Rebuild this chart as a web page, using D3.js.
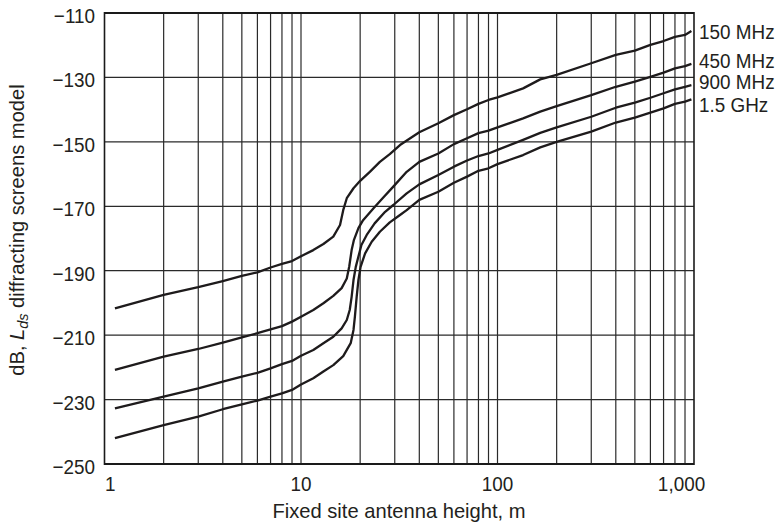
<!DOCTYPE html>
<html>
<head>
<meta charset="utf-8">
<script src="https://cdn.jsdelivr.net/npm/d3@7"></script>
<style>
  body { margin: 0; background: #fff; }
  svg { display: block; }
  text { font-family: "Liberation Sans", Arial, sans-serif; fill: #231f20; }
</style>
</head>
<body>
<div id="container"></div>
<script>
/* DATA */
// [antenna height m, loss dB]
const mhz150 = [[1.13,-201.7],[2,-197.5],[3,-195.1],[4,-193.2],[5,-191.6],[6,-190.5],[7,-189.0],[8,-187.9],[9,-187.0],[10,-185.5],[11.55,-183.6],[13,-181.7],[14.6,-179.4],[15.8,-175.8],[16.4,-171.2],[17.1,-167.5],[18.5,-164.4],[20,-162.1],[22.4,-159.3],[25.2,-156.2],[28.3,-153.8],[31.9,-151.0],[40,-147.0],[50,-144.2],[60,-141.7],[70,-139.9],[80,-138.2],[90,-137.0],[100,-136.2],[135,-133.4],[165,-130.6],[200,-129.2],[300,-125.6],[400,-123.0],[500,-121.7],[600,-119.9],[700,-118.7],[800,-117.4],[900,-116.8],[970,-115.6]]
const mhz450 = [[1.13,-220.8],[2,-216.7],[3,-214.3],[4,-212.3],[5,-210.7],[6,-209.4],[7,-208.2],[8,-207.2],[9,-205.8],[10,-204.3],[11.55,-202.2],[13,-200.1],[14.6,-197.8],[16.1,-195.4],[17.1,-192.4],[17.6,-188.7],[18.1,-183.6],[18.6,-180.4],[19.6,-176.8],[20.7,-174.3],[23.4,-170.6],[26.3,-167.2],[29.5,-163.9],[34.5,-159.3],[40,-156.2],[50,-153.6],[60,-150.7],[70,-148.9],[80,-147.3],[90,-146.5],[100,-145.5],[135,-142.7],[165,-140.6],[200,-138.9],[300,-135.5],[400,-132.9],[500,-131.3],[600,-129.8],[700,-128.5],[800,-127.2],[900,-126.5],[970,-125.8]]
const mhz900 = [[1.13,-232.7],[2,-229.1],[3,-226.5],[4,-224.4],[5,-222.9],[6,-221.7],[7,-220.3],[8,-219.0],[9,-218.0],[10,-216.4],[11.55,-214.6],[13,-212.5],[14.6,-210.5],[16.1,-207.9],[17.1,-205.3],[17.7,-202.2],[18.1,-198.1],[18.5,-192.9],[19,-188.8],[19.6,-185.6],[20.3,-182.0],[21.6,-178.9],[23.7,-175.3],[26.8,-171.7],[29.5,-169.6],[34.5,-166.0],[40,-163.2],[50,-160.3],[60,-157.7],[70,-155.8],[80,-154.4],[90,-153.6],[100,-152.5],[135,-149.4],[165,-147.2],[200,-145.5],[300,-142.2],[400,-139.4],[500,-137.8],[600,-136.3],[700,-134.9],[800,-133.7],[900,-132.9],[970,-132.4]]
const ghz15 = [[1.13,-242.0],[2,-237.9],[3,-235.3],[4,-233.0],[5,-231.5],[6,-230.3],[7,-229.1],[8,-228.1],[9,-227.0],[10,-225.3],[11.55,-223.4],[13,-221.3],[14.6,-219.3],[16.4,-216.5],[17.9,-212.5],[18.5,-208.4],[18.8,-204.3],[19.2,-198.1],[19.6,-192.9],[20.1,-188.8],[21.2,-184.6],[22.9,-181.0],[25.2,-177.9],[28.3,-175.0],[31.9,-172.7],[34.5,-171.2],[40,-168.0],[50,-165.5],[60,-162.7],[70,-160.8],[80,-159.0],[90,-158.2],[100,-156.9],[135,-154.1],[165,-151.7],[200,-150.0],[300,-146.8],[400,-144.0],[500,-142.5],[600,-140.9],[700,-139.6],[800,-138.2],[900,-137.5],[970,-136.8]]

const seriesNames = ["150 MHz", "450 MHz", "900 MHz", "1.5 GHz"]
const seriesData = [mhz150, mhz450, mhz900, ghz15]
const labelY = [38.5, 68, 89, 111.5]   // baselines of the right-hand labels

const yTicks = [-110, -130, -150, -170, -190, -210, -230, -250]
const xTicks = [1, 10, 100, 1000]
const xTickLabels = ["1", "10", "100", "1,000"]

/* LAYOUT */
const W = 781, H = 528
const margin = {top: 13, right: 87, bottom: 64, left: 104.5}
const width = W - margin.left - margin.right
const height = H - margin.top - margin.bottom
const NARROW = 0.9    // squeeze Liberation Sans toward the condensed face
const TITLE_NARROW = 0.96

const svg = d3.select("#container")
  .append("svg")
    .attr("width", W)
    .attr("height", H)

const g = svg.append("g")
  .attr("transform", "translate(" + margin.left + "," + margin.top + ")")

// SCALES
const xScale = d3.scaleLog().domain([1, 1000]).range([0, width])
const yScale = d3.scaleLinear().domain([-250, -110]).range([height, 0])

// GRID
const minorX = []
for (let dec = 1; dec < 1000; dec *= 10) {
  for (let k = 2; k <= 9; k++) minorX.push(k * dec)
}
minorX.push(10, 100)

g.selectAll(".vgrid")
  .data(minorX)
  .join("line")
    .attr("x1", d => xScale(d)).attr("x2", d => xScale(d))
    .attr("y1", 0).attr("y2", height)
    .attr("stroke", "#2a2a2a")
    .attr("stroke-width", 1.2)

g.selectAll(".hgrid")
  .data(yTicks.filter(d => d !== -110 && d !== -250))
  .join("line")
    .attr("x1", 0).attr("x2", width)
    .attr("y1", d => yScale(d)).attr("y2", d => yScale(d))
    .attr("stroke", "#2a2a2a")
    .attr("stroke-width", 1.2)

// frame
g.append("line").attr("x1", 0).attr("x2", width).attr("y1", 0).attr("y2", 0)
  .attr("stroke", "#1a1a1a").attr("stroke-width", 2.2)
g.append("line").attr("x1", 0).attr("x2", width).attr("y1", height).attr("y2", height)
  .attr("stroke", "#1a1a1a").attr("stroke-width", 2.2)
g.append("line").attr("x1", 0).attr("x2", 0).attr("y1", -1).attr("y2", height + 1)
  .attr("stroke", "#1a1a1a").attr("stroke-width", 1.6)
g.append("line").attr("x1", width).attr("x2", width).attr("y1", -1).attr("y2", height + 1)
  .attr("stroke", "#1a1a1a").attr("stroke-width", 1.6)

// AXES (labels only)
const yAxis = g.append("g")
  .call(d3.axisLeft(yScale).tickValues(yTicks).tickSize(0).tickPadding(9)
    .tickFormat(d => "\u2212" + Math.abs(d)))
yAxis.select(".domain").remove()
yAxis.selectAll("text")
  .attr("x", -9.5 / NARROW)
  .attr("dy", "9.5")
  .attr("transform", "scale(" + NARROW + ",1)")
  .style("font-size", "21px")

const xAxis = g.append("g")
  .attr("transform", "translate(0," + height + ")")
  .call(d3.axisBottom(xScale).tickValues(xTicks).tickSize(0).tickPadding(0)
    .tickFormat((d, i) => xTickLabels[i]))
xAxis.select(".domain").remove()
xAxis.selectAll("text")
  .attr("dy", null)
  .attr("y", 27)
  .attr("transform", "scale(" + NARROW + ",1)")
  .style("font-size", "21px")
  .attr("text-anchor", (d, i) => i === 0 ? "start" : "middle")
  .attr("x", (d, i) => i === 3 ? -13 / NARROW : (i === 0 ? 0 : -0.5))

// LINES
const line = d3.line()
  .x(d => xScale(d[0]))
  .y(d => yScale(d[1]))

g.selectAll(".series")
  .data(seriesData)
  .join("path")
    .attr("fill", "none")
    .attr("stroke", "#1e1b1c")
    .attr("stroke-width", 2.3)
    .attr("stroke-linejoin", "round")
    .attr("d", d => line(d))

// series labels
svg.selectAll(".slabel")
  .data(seriesNames)
  .join("text")
    .attr("transform", (d, i) => "translate(699," + labelY[i] + ") scale(" + NARROW + ",1)")
    .style("font-size", "21px")
    .text(d => d)

// axis titles
svg.append("text")
  .attr("transform", "translate(399,518) scale(" + TITLE_NARROW + ",1)")
  .attr("text-anchor", "middle")
  .style("font-size", "21px")
  .text("Fixed site antenna height, m")

const yt = svg.append("text")
  .attr("transform", "translate(24,230) rotate(-90) scale(" + TITLE_NARROW + ",1)")
  .attr("text-anchor", "middle")
  .style("font-size", "21px")
yt.append("tspan").text("dB, ")
yt.append("tspan").style("font-style", "italic").text("L")
yt.append("tspan").style("font-style", "italic").style("font-size", "15px").attr("dy", 4).text("ds")
yt.append("tspan").attr("dy", -4).text(" diffracting screens model")
</script>
</body>
</html>
